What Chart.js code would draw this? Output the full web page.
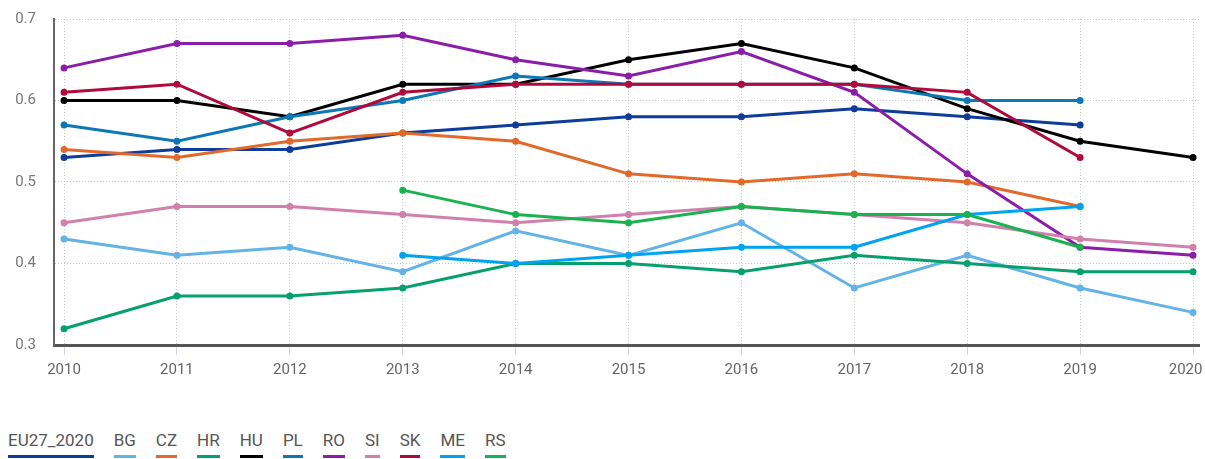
<!DOCTYPE html>
<html>
<head>
<meta charset="utf-8">
<script src="https://cdn.jsdelivr.net/npm/chart.js@4"></script>
<style>
  body { margin: 0; background: #fff; font-family: Roboto, sans-serif; }
  #wrap { position: relative; width: 1205px; height: 390px; }
  #legend { position: absolute; left: 8px; top: 430px; display: flex; gap: 20px; }
  #legend span { font-size: 17px; color: #555; padding-bottom: 5px; border-bottom: 3px solid; line-height: 20px; }
</style>
</head>
<body>
<div id="wrap"><canvas id="line-chart"></canvas></div>
<div id="legend"></div>
<script>
// data
const years = [2010, 2011, 2012, 2013, 2014, 2015, 2016, 2017, 2018, 2019, 2020];
const names = ["EU27_2020", "BG", "CZ", "HR", "HU", "PL", "RO", "SI", "SK", "ME", "RS"];
const colors = ['#0e3c9a', '#63b3e6', '#e0692b', '#05a06b', '#000000', '#0d78b5',
                '#8a1ea8', '#d17fad', '#b00a3d', '#00a3f0', '#19b24f'];

const eu27 = [0.53, 0.54, 0.54, 0.56, 0.57, 0.58, 0.58, 0.59, 0.58, 0.57, null];
const bg   = [0.43, 0.41, 0.42, 0.39, 0.44, 0.41, 0.45, 0.37, 0.41, 0.37, 0.34];
const cz   = [0.54, 0.53, 0.55, 0.56, 0.55, 0.51, 0.50, 0.51, 0.50, 0.47, null];
const hr   = [0.32, 0.36, 0.36, 0.37, 0.40, 0.40, 0.39, 0.41, 0.40, 0.39, 0.39];
const hu   = [0.60, 0.60, 0.58, 0.62, 0.62, 0.65, 0.67, 0.64, 0.59, 0.55, 0.53];
const pl   = [0.57, 0.55, 0.58, 0.60, 0.63, 0.62, 0.62, 0.62, 0.60, 0.60, null];
const ro   = [0.64, 0.67, 0.67, 0.68, 0.65, 0.63, 0.66, 0.61, 0.51, 0.42, 0.41];
const si   = [0.45, 0.47, 0.47, 0.46, 0.45, 0.46, 0.47, 0.46, 0.45, 0.43, 0.42];
const sk   = [0.61, 0.62, 0.56, 0.61, 0.62, 0.62, 0.62, 0.62, 0.61, 0.53, null];
const me   = [null, null, null, 0.41, 0.40, 0.41, 0.42, 0.42, 0.46, 0.47, null];
const rs   = [null, null, null, 0.49, 0.46, 0.45, 0.47, 0.46, 0.46, 0.42, null];

const series = [eu27, bg, cz, hr, hu, pl, ro, si, sk, me, rs];

const datasets = series.map((vals, i) => ({
  label: names[i],
  data: vals.map((v, j) => ({ x: years[j], y: v })).filter(p => p.y !== null),
  borderColor: colors[i],
  backgroundColor: colors[i],
  borderWidth: 3,
  pointRadius: 2,
  pointHoverRadius: 3,
  tension: 0,
  order: -i   // later series on top, like the original
}));

new Chart(document.getElementById("line-chart"), {
  type: 'line',
  data: { datasets: datasets },
  options: {
    responsive: true,
    maintainAspectRatio: false,
    animation: false,
    layout: { padding: { top: 19, right: 0, left: 0, bottom: 0 } },
    plugins: {
      legend: { display: false },
      tooltip: { enabled: false }
    },
    scales: {
      x: {
        type: 'linear',
        min: 2009.911,
        max: 2020.053,
        afterFit: s => { s.height = 45; s.paddingLeft = 0; s.paddingRight = 0; },
        ticks: {
          stepSize: 1,
          includeBounds: false,
          maxRotation: 0,
          autoSkip: false,
          padding: 6,
          color: '#666',
          font: { family: 'Roboto', size: 15 },
          // last label is pushed left so it stays inside the page
          callback: v => v === 2020 ? '2020    ' : String(v)
        },
        grid: {
          color: '#c8c8c8',
          tickColor: '#ccd6eb',
          tickLength: 10,
          tickBorderDash: []
        },
        border: { color: '#555', width: 3, dash: [1, 2] }
      },
      y: {
        min: 0.3,
        max: 0.7,
        afterFit: s => { s.width = 54; s.paddingTop = 0; s.paddingBottom = 0; },
        ticks: {
          stepSize: 0.1,
          padding: 18,
          color: '#777',
          font: { family: 'Roboto', size: 15 },
          callback: v => v.toFixed(1)
        },
        grid: { color: '#c8c8c8', drawTicks: false },
        border: { color: '#666', width: 2, dash: [1, 2] }
      }
    }
  }
});

// legend with a coloured underline under each label
const legend = document.getElementById('legend');
names.forEach((n, i) => {
  const s = document.createElement('span');
  s.textContent = n;
  s.style.borderBottomColor = colors[i];
  legend.appendChild(s);
});
</script>
</body>
</html>
